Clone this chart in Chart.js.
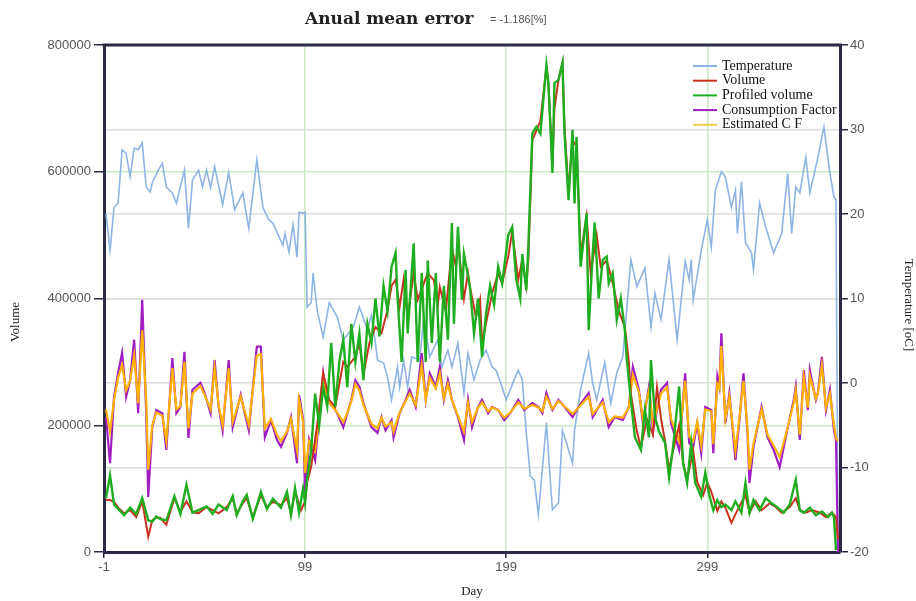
<!DOCTYPE html>
<html>
<head>
<meta charset="utf-8">
<script src="https://cdn.jsdelivr.net/npm/chart.js@4.4.1/dist/chart.umd.min.js"></script>
<style>
  html, body { margin: 0; padding: 0; background: #fff; }
  #wrap { width: 916px; height: 601px; }
</style>
</head>
<body>
<div id="wrap"><canvas id="errChart" width="916" height="601"></canvas></div>
<script>
// x ticks (days)
const xTicks = [-1, 99, 199, 299];

// temperature [oC] - right axis
const tempDays = [0,2,4,6,8,10,12,14,16,18, 20,22,23,26,28,30,33,35,39,41, 43,46,48,50,52,54,58,61,64,68,
  71,75,78,81,83,88,89,91,93,95, 96,98,99,100,102,103,105,108,111,115, 118,123,126,130,132,134,135,138,140,142,
  145,146,148,150,152,156,158,161,165,167, 170,172,175,178,180,183,186,189,192,194, 197,199,203,205,207,209,211,213,215,219,
  221,222,225,227,229,232,233,236,240,242, 244,248,251,254,257,261,264,268,271,273, 276,280,284,288,290,291,292,296,299,301,
  303,306,308,311,313,314,316,318,321,322, 325,328,332,336,339,341,343,345,348,350, 354,355,357,360,362,363,364];
const tempValues = [20,15.7,20.8,21.3,27.6,27.2,24.4,27.8,27.6,28.4, 23.2,22.6,23.7,25.2,26.0,23.2,22.5,21.3,25.2,18.3,
  24.0,25.2,23.2,25.2,23.1,25.6,21.1,24.9,20.5,22.5, 18.3,26.4,20.8,19.3,18.9,16.3,17.7,15.5,18.7,14.9,
  20.2,20.1,20.2,9.0,9.5,13,8.6,5.4,9.5,7.8, 5.1,6.6,9.0,6.3,8.0,4.7,2.7,2.4,0.7,-2,
  1.9,-0.5,2.7,-0.5,3.1,2.7,7.8,3.1,5.1,1.9, 3.9,1.9,4.7,-1.2,3.5,0.4,2.7,3.9,1.9,1.5,
  -0.5,-2,0.4,1.5,0.4,-5.9,-11,-11.5,-15.6,-4.7, -11.8,-15,-14.2,-5.6,-7.1,-9.5,-5.6,-0.8,3.5,0,
  -2,2.4,-2.4,1.2,3.1,14.6,11.4,13.6,6.6,10.6, 7.5,14.6,5.1,14.4,12.2,14.6,9.8,15.7,19.3,16.1,
  22.8,25,24.4,20.8,22.8,17.7,23.8,16.6,15.4,13.4, 21.3,18.5,15.4,17.7,24.8,17.7,23.2,22.5,26.7,22.5,
  26.7,27.9,30.3,24.8,22,21.7,-19.4];

// volume (x1000)
const volDays = [0,2,4,6,9,12,15,18,21,23, 25,27,30,34,37,40,43,46,50,53, 56,60,63,65,68,70,73,77,80,83,
  87,90,92,94,97,99,100,102,105,108, 111,114,118,120,124,126,128,131,134,137, 140,142,144,146,148,150,153,155,158,160,
  163,165,166,169,172,174,175,178,180,181, 184,186,187,190,192,195,197,200,202,205, 207,209,210,212,214,216,219,220,222,223,
  225,227,228,230,232,234,236,239,241,244, 246,249,252,255,258,260,261,264,266,269, 272,274,276,278,280,282,285,287,289,292,
  294,297,299,301,304,306,308,311,314,318, 320,323,326,330,333,336,340,343,345,348, 351,355,358,361,363,364];
const volValues = [82,82,79,70,61,66,55,80,24,50, 54,54,43,85,63,80,63,61,71,66, 61,71,85,61,77,85,55,90,71,79,
  74,85,61,95,66,80,110,134,200,282, 240,229,300,292,308,330,280,330,355,345, 382,420,430,387,430,370,440,398,424,440,
  429,390,418,380,480,450,490,400,440,418, 370,398,330,377,408,440,424,466,505,430, 461,420,461,650,665,680,765,740,610,700,
  745,772,670,570,650,640,470,530,440,500, 450,460,424,380,355,300,250,190,165,210, 185,260,210,175,130,160,200,140,115,160,
  110,90,110,95,65,80,70,46,66,90, 62,80,66,77,71,62,71,85,66,62, 66,62,55,62,55,20];

// profiled volume (x1000)
const profDays = [0,2,4,6,9,12,15,18,21,23, 25,27,30,34,37,40,43,46,50,53, 56,60,63,65,68,70,73,77,80,83,
  87,90,92,94,96,98,99,100,102,104, 106,108,110,112,114,116,118,120,122,124, 126,128,130,132,134,136,138,140,142,144,
  145,147,149,150,153,155,157,159,160,162, 164,166,168,170,172,173,175,177,178,181, 183,185,187,189,191,193,195,197,200,202,
  204,206,207,209,210,212,214,216,219,220, 222,223,225,227,228,230,232,233,234,236, 239,240,242,243,245,247,249,250,252,254,
  256,258,259,261,263,266,268,270,271,273, 275,278,280,282,285,287,289,291,293,296, 298,300,302,304,306,308,311,313,316,318,
  320,322,325,328,331,334,337,340,343,345, 347,350,353,356,359,361,362,363];
const profValues = [85,121,75,68,58,70,60,85,50,48, 56,52,50,88,60,106,62,66,72,60, 75,66,88,58,80,90,52,95,68,84,
  70,95,58,101,62,100,78,114,160,250, 200,260,230,330,229,300,335,260,360,300, 345,271,360,330,400,340,420,380,450,472,
  400,300,445,345,487,300,440,300,460,330, 440,300,420,335,519,360,513,398,470,418, 345,400,308,377,420,390,450,424,500,513,
  430,400,470,413,480,661,671,660,768,740, 598,740,745,772,661,555,666,550,655,450, 535,350,470,520,400,461,466,424,440,366,
  400,350,303,240,181,161,224,181,303,213, 190,172,118,166,261,140,109,172,109,87, 125,90,66,82,71,75,66,80,62,109,
  62,82,66,85,77,70,62,75,114,66, 62,70,58,64,55,62,55,3];

// consumption factor and its estimate (plotted on volume scale, x1000)
const cfDays = [0,2,4,6,8,10,12,14,16,18, 20,21,23,25,28,30,33,35,37,39, 41,43,47,49,52,54,56,58,61,63,
  67,69,71,75,77,79,82,85,87,90, 92,95,96,98,99,101,104,108,110,113, 115,118,120,122,124,126,128,132,135,137,
  139,142,143,146,149,151,154,157,159,161, 164,166,168,170,172,175,178,180,182,185, 187,190,192,195,198,201,205,208,212,215,
  217,219,222,225,228,232,235,240,242,247, 250,253,257,260,262,265,267,270,272,276, 279,281,285,288,290,292,294,296,298,301,
  302,304,305,306,308,310,313,315,317,319, 320,322,326,329,332,335,338,342,343,345, 347,349,350,353,354,356,358,360,362,363, 364];
const cfValues = [213,140,245,282,314,245,271,335,219,398, 219,87,197,224,219,161,306,219,229,316,
  180,256,267,251,219,303,229,192,303,197, 248,219,192,324,324,181,208,177,166,188,
  213,140,248,210,93,177,145,282,240,229, 219,197,219,240,271,261,235,197,188,213,
  192,208,181,219,240,256,229,314,240,282, 261,292,240,271,240,213,177,240,197,229,
  240,219,229,224,208,219,240,224,235,229, 219,251,224,240,229,213,229,251,213,240,
  197,213,208,229,292,256,203,261,192,256, 267,203,161,282,172,166,203,156,229,224,
  156,277,261,345,203,251,145,208,282,188, 109,166,229,181,161,134,181,240,261,177,
  287,224,287,240,251,308,224,256,192,177, 0];
const estValues = [225,190,240,275,295,255,270,310,235,350, 240,130,200,220,215,175,290,225,230,300,
  195,250,262,248,225,290,232,200,290,205, 245,222,200,310,312,195,210,185,175,190,
  210,160,240,205,125,175,160,270,240,228, 220,205,220,238,265,255,232,202,195,212,
  198,205,190,220,238,250,232,295,240,275, 258,282,242,265,240,215,190,235,205,228,
  236,222,228,224,212,220,236,226,232,228, 222,245,226,238,230,218,228,245,218,236,
  205,214,212,228,280,252,210,255,202,250, 260,210,175,270,182,175,205,168,225,222,
  170,265,258,325,210,245,160,212,270,195, 130,172,225,185,168,150,185,235,255,185,
  275,228,278,242,250,295,228,250,200,180, 175];

const pts = (days, vals, k) => days.map((d, i) => ({ x: d, y: vals[i] * k }));

const tickFont = { family: 'Liberation Sans', size: 13 };
const tickColor = '#555';
const axisColor = '#2b2b45';

const overlay = {
  id: 'overlay',
  afterDraw(chart) {
    const { ctx, chartArea: a } = chart;
    ctx.save();
    // top frame line
    ctx.strokeStyle = axisColor;
    ctx.lineWidth = 3;
    ctx.beginPath();
    ctx.moveTo(a.left - 1.5, a.top);
    ctx.lineTo(a.right + 1.5, a.top);
    ctx.stroke();

    // title
    ctx.fillStyle = '#222';
    ctx.textBaseline = 'alphabetic';
    ctx.textAlign = 'left';
    ctx.font = 'bold 17px "DejaVu Serif"';
    ctx.fillText('Anual mean error', 305, 24);
    ctx.font = '11px "Liberation Sans"';
    ctx.fillStyle = '#555';
    ctx.fillText('= -1.186[%]', 490, 23);

    // axis titles
    ctx.fillStyle = '#222';
    ctx.font = '13px "Liberation Serif"';
    ctx.textAlign = 'center';
    ctx.textBaseline = 'middle';
    ctx.fillText('Day', 472, 592);
    ctx.save();
    ctx.translate(16, 322);
    ctx.rotate(-Math.PI / 2);
    ctx.fillText('Volume', 0, 0);
    ctx.restore();
    ctx.save();
    ctx.translate(908, 305);
    ctx.rotate(Math.PI / 2);
    ctx.fillText('Temperature [oC]', 0, 0);
    ctx.restore();

    // legend
    ctx.font = '14px "Liberation Serif"';
    ctx.textAlign = 'left';
    const order = [0, 1, 2, 3, 4];
    order.forEach((idx, r) => {
      const ds = chart.data.datasets[idx];
      const y = 66 + r * 14.7;
      ctx.strokeStyle = ds.legendColor || ds.borderColor;
      ctx.lineWidth = 2;
      ctx.beginPath();
      ctx.moveTo(693, y);
      ctx.lineTo(717, y);
      ctx.stroke();
      ctx.fillStyle = '#111';
      ctx.fillText(ds.label, 722, y);
    });
    ctx.restore();
  }
};

new Chart(document.getElementById('errChart'), {
  type: 'line',
  data: {
    datasets: [
      { label: 'Temperature', data: pts(tempDays, tempValues, 1), yAxisID: 'y1',
        borderColor: '#8eb4e3', borderWidth: 1.6, order: 5 },
      { label: 'Volume', data: pts(volDays, volValues, 1000), yAxisID: 'y',
        borderColor: '#c8321e', borderWidth: 2, order: 2 },
      { label: 'Profiled volume', data: pts(profDays, profValues, 1000), yAxisID: 'y',
        borderColor: '#1fae1f', borderWidth: 2.4, order: 1 },
      { label: 'Consumption Factor', data: pts(cfDays, cfValues, 1000), yAxisID: 'y',
        borderColor: '#a21cc4', borderWidth: 2.2, order: 4 },
      { label: 'Estimated C F', data: pts(cfDays, estValues, 1000), yAxisID: 'y',
        borderColor: '#ffb300', legendColor: '#e9d34c', borderWidth: 2.2, order: 3 }
    ]
  },
  options: {
    responsive: false,
    animation: false,
    layout: { padding: { top: 45, left: 0, right: 0, bottom: 0 } },
    elements: { point: { radius: 0 }, line: { tension: 0 } },
    plugins: { legend: { display: false }, tooltip: { enabled: false } },
    scales: {
      x: {
        type: 'linear', min: -1, max: 365,
        afterBuildTicks: s => { s.ticks = xTicks.map(v => ({ value: v })); },
        afterFit: s => { s.height = 49; },
        grid: { color: '#c9eac3', lineWidth: 1.5, tickColor: axisColor, tickLength: 6 },
        border: { color: axisColor, width: 3 },
        ticks: { font: tickFont, color: tickColor, padding: 2, maxRotation: 0, callback: v => String(v) }
      },
      y: {
        position: 'left', min: 0, max: 800000,
        afterFit: s => { s.width = 104; },
        grid: { color: '#c9eac3', lineWidth: 1.5, tickColor: axisColor, tickLength: 10 },
        border: { color: axisColor, width: 3 },
        ticks: { stepSize: 200000, font: tickFont, color: tickColor, padding: 3, callback: v => String(v) }
      },
      y1: {
        position: 'right', min: -20, max: 40,
        afterFit: s => { s.width = 76; },
        grid: { color: '#dcdcdc', lineWidth: 1.5, tickColor: axisColor, tickLength: 8 },
        border: { color: axisColor, width: 3 },
        ticks: { stepSize: 10, font: tickFont, color: tickColor, padding: 2, callback: v => String(v) }
      }
    }
  },
  plugins: [overlay]
});
</script>
</body>
</html>
